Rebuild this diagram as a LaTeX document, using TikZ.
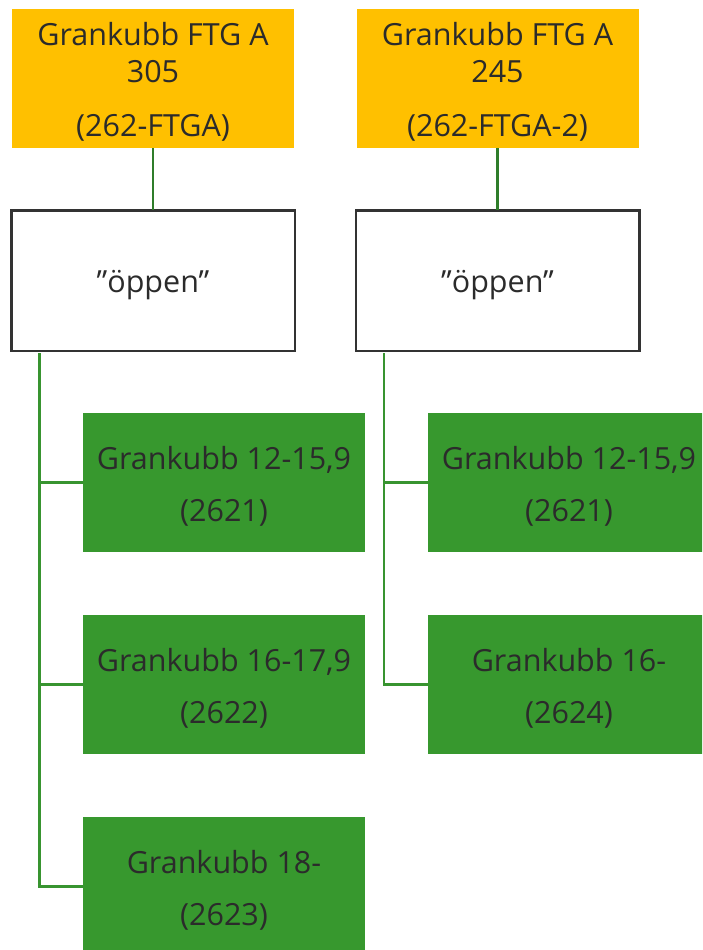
\documentclass[tikz,border=0pt]{standalone}
\usepackage{fontspec}
\setmainfont{Open Sans}
\definecolor{orangefill}{HTML}{FFC000}
\definecolor{greenfill}{HTML}{37982E}
\definecolor{linegreen}{HTML}{389430}
\definecolor{topgreen}{HTML}{2F7D2A}
\definecolor{txt}{HTML}{2B2B2B}
\definecolor{border}{HTML}{333333}
\newcommand{\topstrut}[1]{\rule{0pt}{#1}}
\tikzset{
  x=1pt, y=-1pt,
  every node/.style={inner sep=0pt, outer sep=0pt, text=txt, align=center,
    font=\fontsize{30.5}{37}\selectfont},
  orangebox/.style={fill=orangefill, minimum width=282pt, minimum height=139pt},
  whitebox/.style={draw=border, line width=2.5pt, fill=white, minimum width=283.5pt, minimum height=140.5pt},
  greenbox/.style={fill=greenfill, minimum width=282pt, minimum height=139pt,
    font=\fontsize{30.5}{52}\selectfont},
  conn/.style={draw=linegreen, line width=2.5pt},
  topconn/.style={draw=topgreen, line width=2.5pt}
}
\begin{document}
\begin{tikzpicture}
\useasboundingbox (0,0) rectangle (702,950);
\clip (0,0) rectangle (702,950);
% top boxes
\node[orangebox] (o1) at (153,78.5) {\topstrut{30pt}Grankubb FTG A\\305\\[17pt](262-FTGA)};
\node[orangebox] (o2) at (497.5,78.5) {\topstrut{30pt}Grankubb FTG A\\245\\[17pt](262-FTGA-2)};
% white boxes
\node[whitebox] (w1) at (153,280.5) {\topstrut{32pt}”öppen”};
\node[whitebox] (w2) at (497.5,280.5) {\topstrut{32pt}”öppen”};
% green boxes
\node[greenbox] (g11) at (224,482.5) {\topstrut{30pt}Grankubb 12-15,9\\(2621)};
\node[greenbox] (g12) at (224,684.5) {\topstrut{30pt}Grankubb 16-17,9\\(2622)};
\node[greenbox] (g13) at (224,886.5) {\topstrut{30pt}Grankubb 18-\\(2623)};
\node[greenbox] (g21) at (569,482.5) {\topstrut{30pt}Grankubb 12-15,9\\(2621)};
\node[greenbox] (g22) at (569,684.5) {\topstrut{30pt}Grankubb 16-\\(2624)};
% connectors
\draw[topconn] (o1.south) -- (w1.north);
\draw[topconn] (o2.south) -- (w2.north);
\coordinate (t1) at (39.5,353);
\coordinate (t2) at (384,353);
\draw[conn] (t1) |- (g13.west);
\draw[conn] (t1) |- (g11.west);
\draw[conn] (t1) |- (g12.west);
\draw[conn] (t2) |- (g22.west);
\draw[conn] (t2) |- (g21.west);
\end{tikzpicture}
\end{document}
